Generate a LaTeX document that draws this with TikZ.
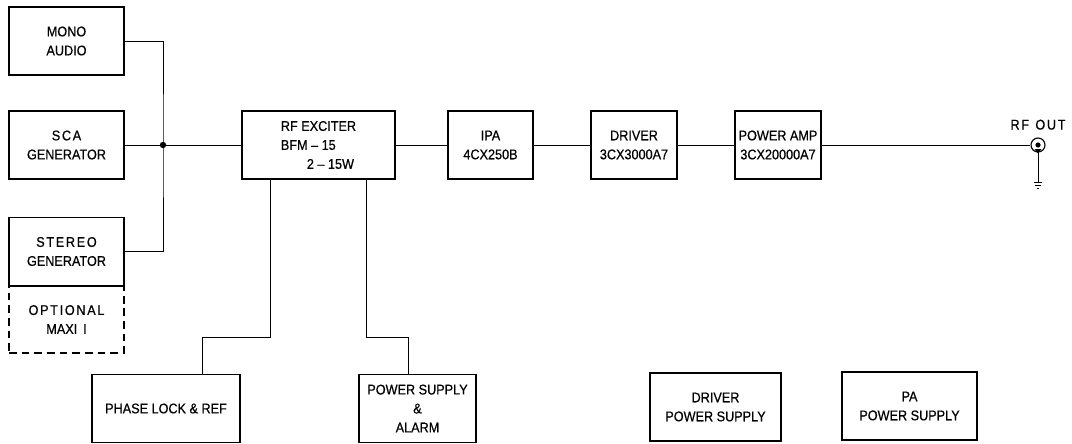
\documentclass[tikz,border=0pt]{standalone}
\usepackage{fontspec}
\setmainfont[FakeStretch=0.9,FakeBold=0.6]{Liberation Sans}
\usetikzlibrary{positioning}
\newcommand{\spread}[1]{{\addfontfeature{LetterSpace=12}#1}}
\tikzset{
    blk/.style={draw, line width=0.8pt, minimum height=1.7cm, inner sep=0pt,
        align=center, font=\fontsize{10}{13.5}\selectfont},
    wire/.style={line width=0.7pt}
}

\begin{document}
\begin{tikzpicture}[x=0.025cm,y=-0.025cm]
            \useasboundingbox (0,0) rectangle (1072,443);

            % audio sources
            \node[blk, minimum width=2.875cm] (mono) at (66.5,41) {MONO\\AUDIO};
            \node[blk, minimum width=2.875cm] (sca) at (66.5,145) {\spread{SCA}\\GENERATOR};
            \node[blk, minimum width=2.875cm] (stereo) at (66.5,251.5) {\spread{STEREO}\\GENERATOR};
            \node[blk, dash pattern=on 5.5pt off 3.5pt, minimum width=2.875cm, minimum height=1.675cm] (maxi) at (66.5,319.5) {\spread{OPTIONAL}\\MAXI \,I};
            \draw[line width=0.8pt] (stereo.south west) -- (stereo.south east);

            % rf chain
            \node[blk, minimum width=3.825cm, align=left] (exciter) at (318.5,145) {RF EXCITER\\BFM -- 15\\\hspace*{0.65cm}2 -- 15W};
            \node[blk, minimum width=2.125cm] (ipa) at (490.5,145) {IPA\\4CX250B};
            \node[blk, minimum width=2.15cm] (driver) at (634,145) {DRIVER\\3CX3000A7};
            \node[blk, minimum width=2.15cm] (pamp) at (778,145) {POWER AMP\\3CX20000A7};

            % support units
            \node[blk, minimum width=3.7cm] (plock) at (166,408.5) {PHASE LOCK \& REF};
            \node[blk, minimum width=2.925cm] (psup) at (417.5,408.5) {POWER SUPPLY\\\&\\ALARM};
            \node[blk, minimum width=3.275cm] (dps) at (715.5,407) {DRIVER\\POWER SUPPLY};
            \node[blk, minimum width=3.375cm] (paps) at (909.5,406) {PA\\POWER SUPPLY};

            % summing bus
            \coordinate (jn) at (163,145);
            \draw[wire] (mono.east) -| (jn) |- (stereo.east);
            \draw[wire] (sca.east) -- (exciter.west);
            \fill (jn) circle (3.2);

            \draw[wire] (exciter.east) -- (ipa.west);
            \draw[wire] (ipa.east) -- (driver.west);
            \draw[wire] (driver.east) -- (pamp.west);

            % taps to phase lock and power supply
            \coordinate (tapA) at (270,337);
            \coordinate (dropA) at (202,337);
            \coordinate (tapB) at (366,337);
            \coordinate (dropB) at (408,337);
            \draw[wire] (exciter.south -| tapA) -- (tapA) -- (dropA) -- (plock.north -| dropA);
            \draw[wire] (exciter.south -| tapB) -- (tapB) -- (dropB) -- (psup.north -| dropB);

            % output connector
            \node[draw, circle, line width=0.8pt, minimum size=0.35cm, inner sep=0pt] (rfout) at (1038,145) {};
            \node[font=\fontsize{10}{12}\selectfont, above=2pt of rfout] (rflabel) {\spread{RF\hspace{0.45em}OUT}};
            \draw[wire] (pamp.east) -- (rfout.west);
            \fill (rfout.center) circle (2.6);
            \fill (1034.5,149) -- (1041.5,149) -- (1038,153.5) -- cycle;
            \coordinate (gnd) at (1038,182);
            \draw[wire] (rfout.south) -- (gnd);
            \foreach \w/\d in {4/0,2.7/3,1.2/6}
                {\draw[line width=0.6pt] ([xshift=-\w*0.025cm, yshift=-\d*0.025cm]gnd) -- ([xshift=\w*0.025cm, yshift=-\d*0.025cm]gnd);}
        \end{tikzpicture}
\end{document}
